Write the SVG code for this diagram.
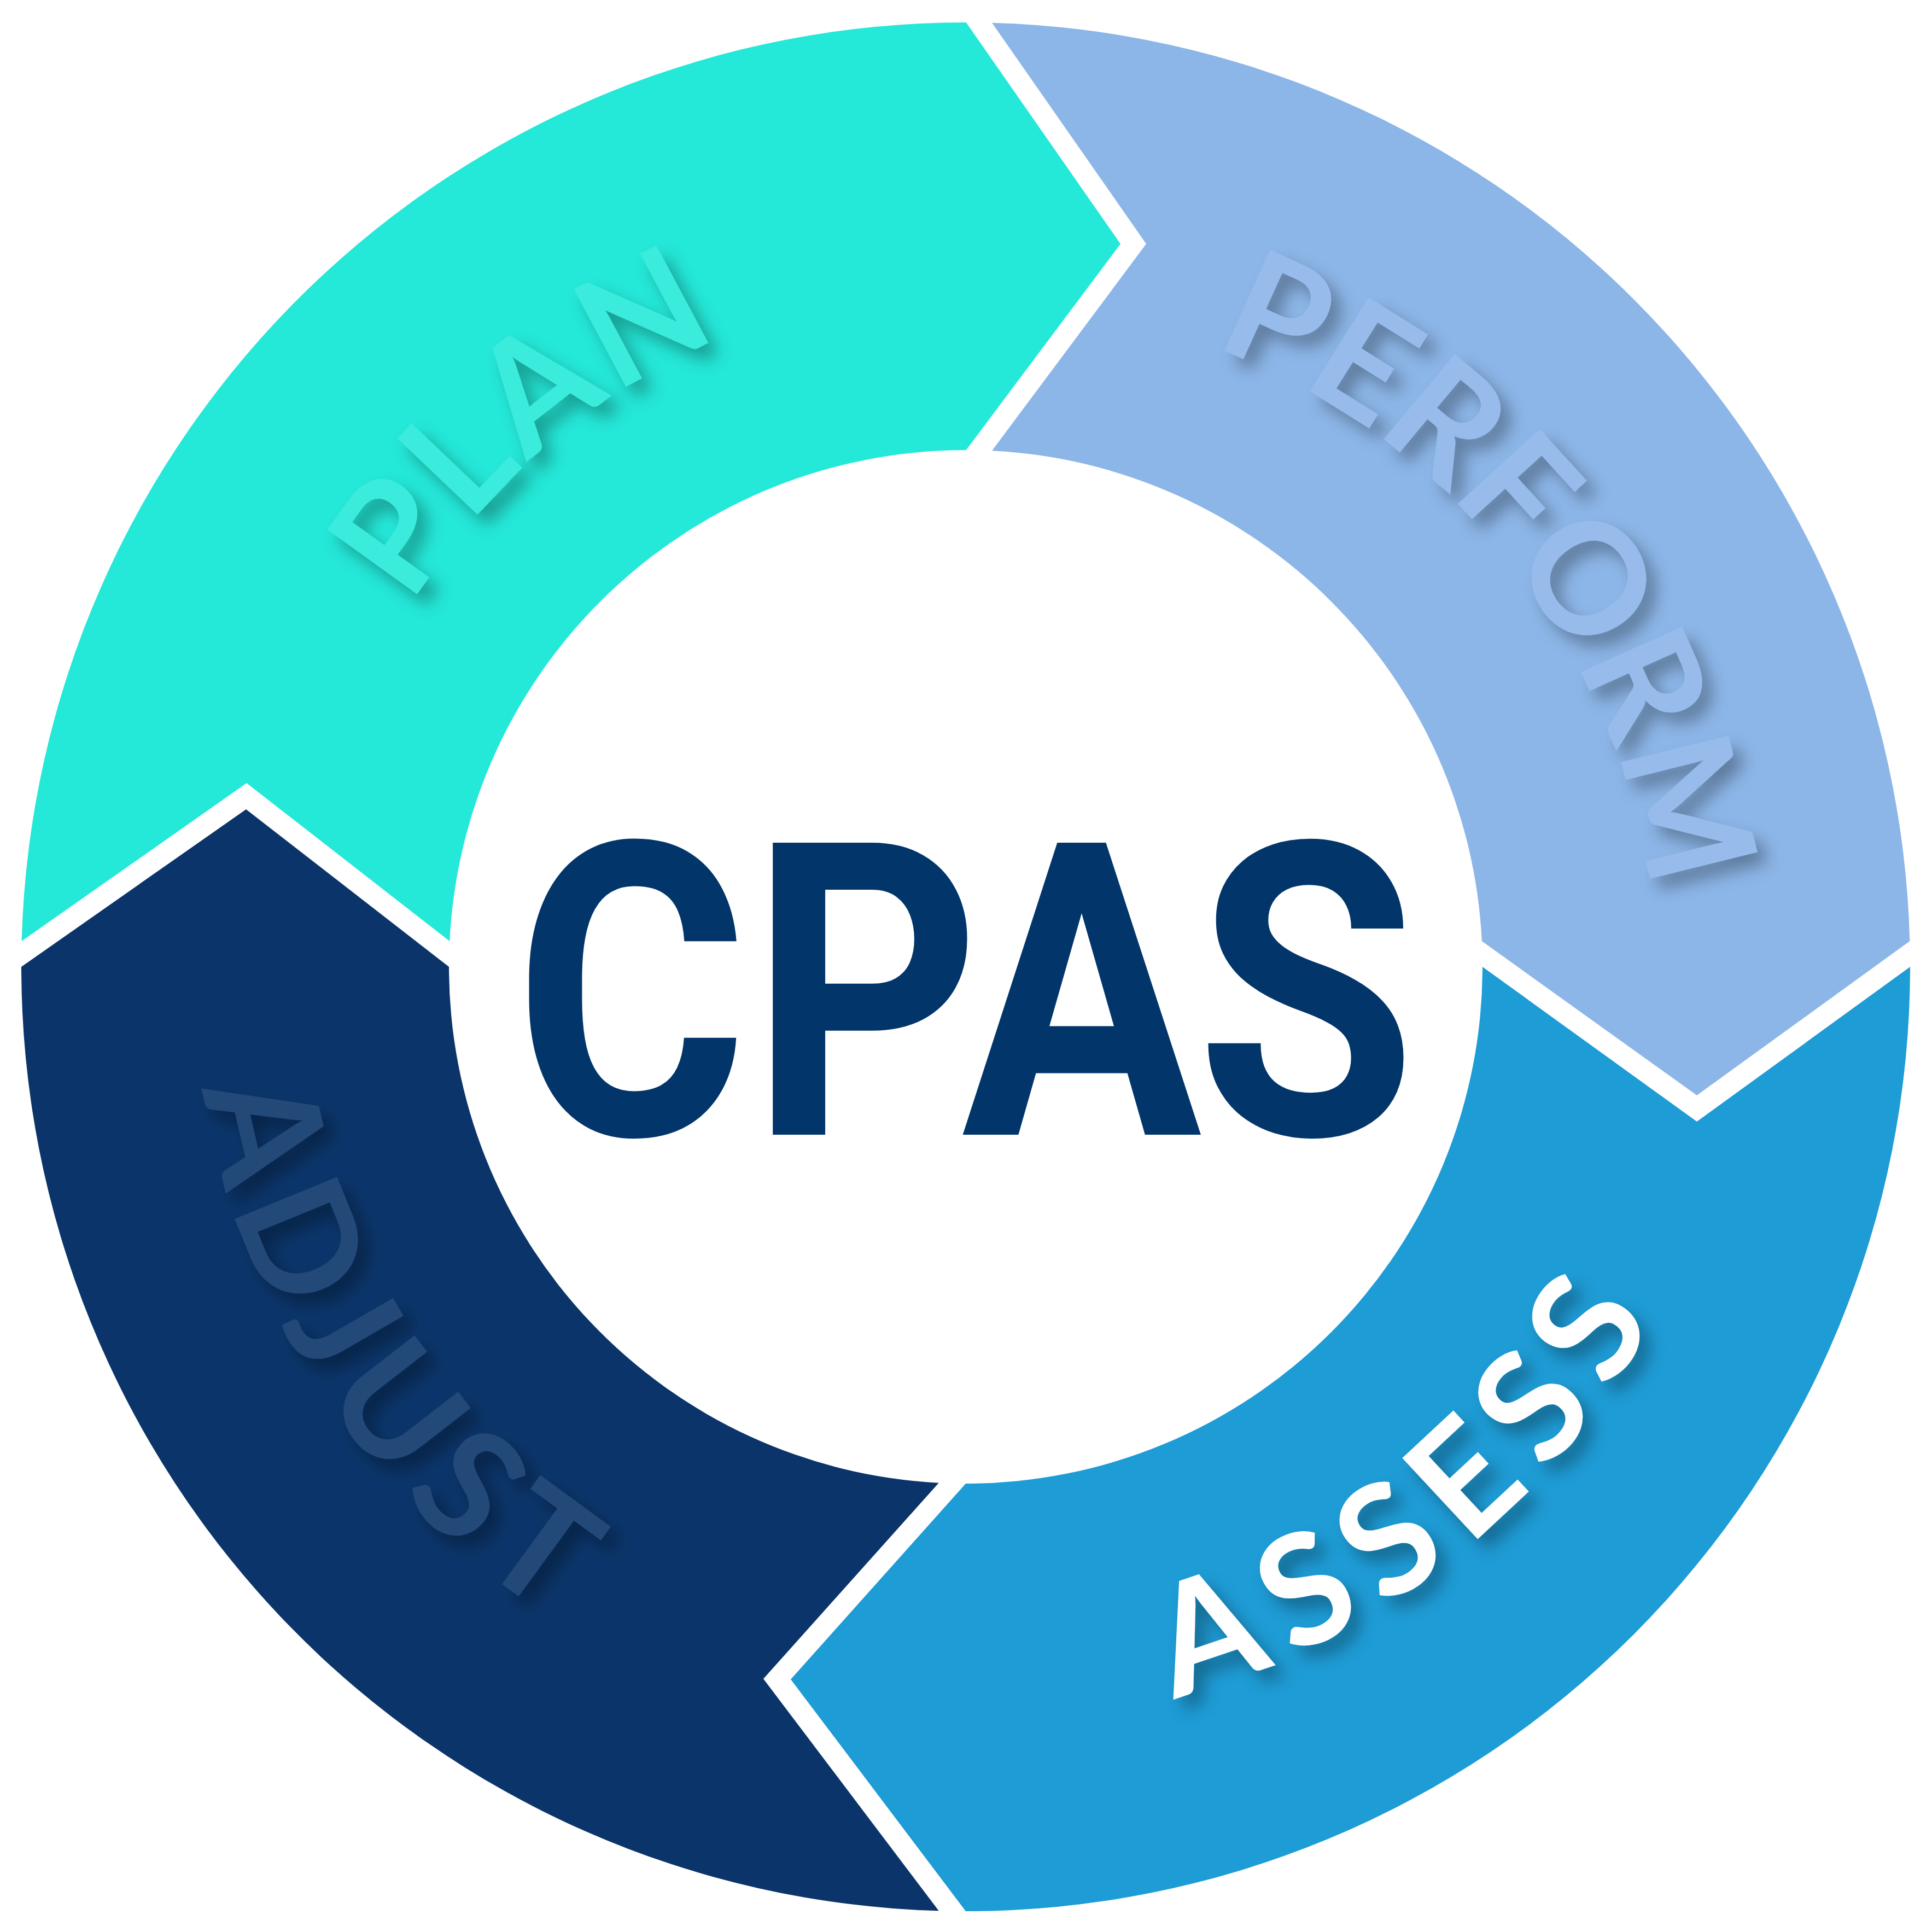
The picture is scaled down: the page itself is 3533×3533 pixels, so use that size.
<svg xmlns="http://www.w3.org/2000/svg" width="3533" height="3533" viewBox="0 0 3533 3533">
  <defs>
    <style>
      .lbl { font-family: "Lato", "Open Sans", "Liberation Sans", sans-serif; font-weight: 700; font-size: 280px; filter: url(#sh); }
      .core { font-family: "Roboto", "Liberation Sans", sans-serif; font-weight: 700; font-size: 751px; fill: #02366a; }
    </style>
    <filter id="sh" x="-25%" y="-25%" width="150%" height="150%">
      <feDropShadow dx="18" dy="20" stdDeviation="15" flood-color="#000" flood-opacity="0.32"/>
    </filter>
    <path id="arc-plan" d="M 664.5,1277.1 A 1230 1230 0 0 1 1499,559.4"/>
    <path id="arc-perform" d="M 2031.5,582.2 A 1239 1239 0 0 1 3026.8,1823.3"/>
    <path id="arc-assess" d="M 1922.8,3144.1 A 1400 1400 0 0 0 3119.9,2189.7"/>
    <path id="arc-adjust" d="M 354.1,1749.5 A 1412 1412 0 0 0 1216.6,3068.7"/>
  </defs>
  <rect width="3533" height="3533" fill="#ffffff"/>

  <g id="node-plan">
    <path fill="#24e8d8" d="M 39.6,1721 A 1727 1727 0 0 1 1766.7,41 L 2049,446 L 1766.7,823 A 945 945 0 0 0 822.2,1721 L 451,1432 Z"/>
    <text class="lbl" fill="#3aebdb"><textPath href="#arc-plan" startOffset="50%" text-anchor="middle" textLength="757" lengthAdjust="spacing">PLAN</textPath></text>
  </g>

  <g id="node-perform">
    <path fill="#8cb6e8" d="M 1814,41.7 A 1727 1727 0 0 1 3492.4,1721 L 3103,2003 L 2709.8,1721 A 945 945 0 0 0 1814,824.2 L 2096,446 Z"/>
    <text class="lbl" fill="#97bceb"><textPath href="#arc-perform" startOffset="50%" text-anchor="middle" textLength="1340" lengthAdjust="spacing">PERFORM</textPath></text>
  </g>

  <g id="node-assess">
    <path fill="#1e9cd6" d="M 3493,1768 A 1727 1727 0 0 1 1766,3495 L 1446,3071 L 1766,2713 A 945 945 0 0 0 2711,1768 L 3103,2051 Z"/>
    <text class="lbl" fill="#ffffff"><textPath href="#arc-assess" startOffset="802" text-anchor="middle" textLength="1150" lengthAdjust="spacing">ASSESS</textPath></text>
  </g>

  <g id="node-adjust">
    <path fill="#0b356a" d="M 1716.7,3494.3 A 1727 1727 0 0 1 39,1768 L 450,1480 L 821,1768 A 945 945 0 0 0 1716.7,2711.7 L 1396,3070 Z"/>
    <text class="lbl" fill="#244878"><textPath href="#arc-adjust" startOffset="50%" text-anchor="middle" textLength="1187" lengthAdjust="spacing">ADJUST</textPath></text>
  </g>

  <g id="node-center">
    <text class="core" transform="scale(0.87,1)" y="2075" x="1326.3 1818.9 2273.6 2745.4" text-anchor="middle">CPAS</text>
  </g>
</svg>
